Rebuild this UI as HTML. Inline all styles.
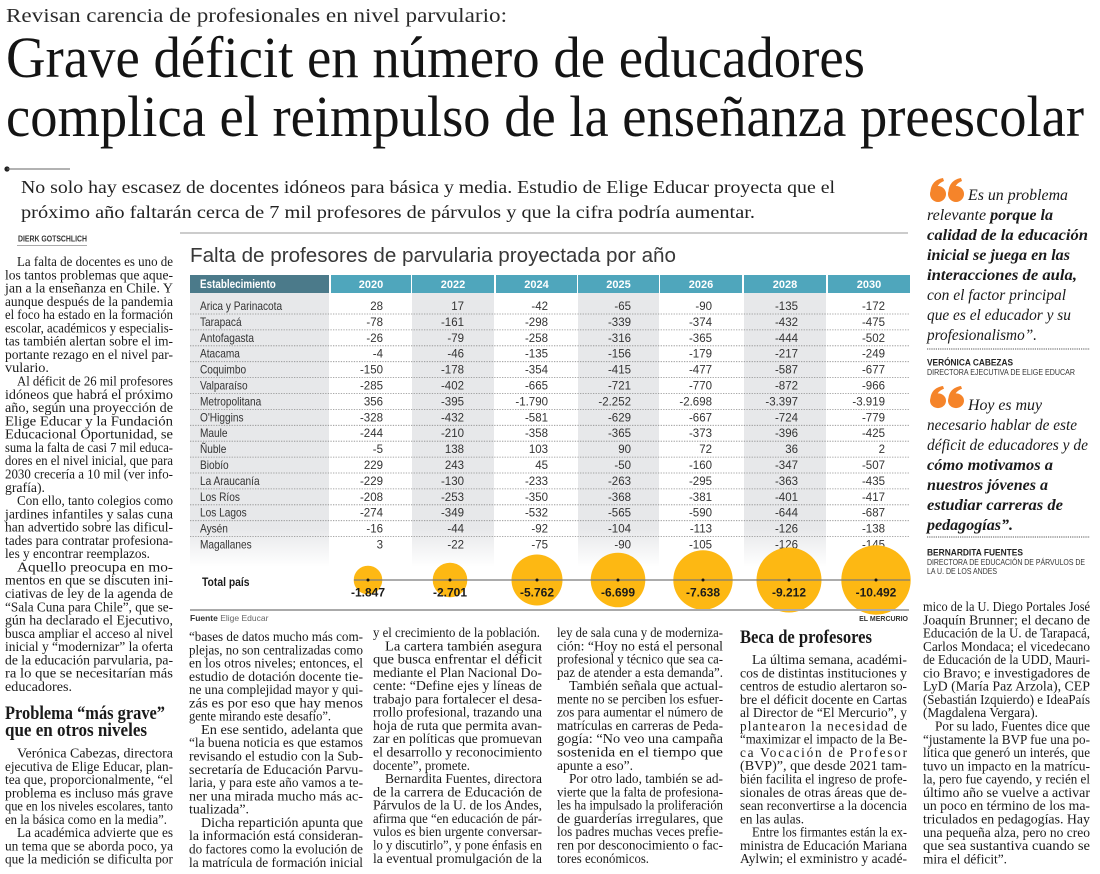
<!DOCTYPE html>
<html><head><meta charset="utf-8">
<style>
html,body{margin:0;padding:0;background:#fff;}
body{width:1100px;height:874px;overflow:hidden;}
svg{display:block;}
.s{font-family:"Liberation Serif",serif;}
.t{font-family:"Liberation Serif",serif;font-size:13.3px;fill:#1a1a1a;}
.a{font-family:"Liberation Sans",sans-serif;}
.n{font-family:"Liberation Sans",sans-serif;font-size:11.5px;fill:#333;text-anchor:end;}
.r{font-family:"Liberation Sans",sans-serif;font-size:11.5px;fill:#333;}
.yh{font-family:"Liberation Sans",sans-serif;font-size:11px;font-weight:bold;fill:#fff;text-anchor:middle;}
.bl{font-family:"Liberation Sans",sans-serif;font-size:12px;font-weight:bold;fill:#1a1a1a;text-anchor:middle;}
.q{font-family:"Liberation Serif",serif;font-size:15.5px;font-style:italic;fill:#1a1a1a;}
.qb{font-weight:bold;}
</style></head>
<body>
<svg width="1100" height="874" viewBox="0 0 1100 874" xmlns="http://www.w3.org/2000/svg">
<defs>
<linearGradient id="g" x1="0" y1="293" x2="0" y2="567" gradientUnits="userSpaceOnUse">
<stop offset="0" stop-color="#e7e8ea"/><stop offset="0.86" stop-color="#e7e8ea"/><stop offset="1" stop-color="#ffffff"/>
</linearGradient>
</defs>
<rect width="1100" height="874" fill="#fff"/>

<!-- Kicker and headline -->
<text class="s" x="6" y="22" font-size="20" fill="#2a2a2a" textLength="501" lengthAdjust="spacingAndGlyphs">Revisan carencia de profesionales en nivel parvulario:</text>
<text class="s" x="6" y="77" font-size="58" fill="#141414" textLength="859" lengthAdjust="spacingAndGlyphs">Grave déficit en número de educadores</text>
<text class="s" x="6" y="136" font-size="58" fill="#141414" textLength="1078" lengthAdjust="spacingAndGlyphs">complica el reimpulso de la enseñanza preescolar</text>

<!-- bullet line -->
<circle cx="7" cy="169" r="2.6" fill="#222"/>
<line x1="7" y1="169" x2="70" y2="169" stroke="#666" stroke-width="1"/>

<!-- deck -->
<text class="s" x="21" y="193" font-size="18" fill="#222" textLength="814" lengthAdjust="spacingAndGlyphs">No solo hay escasez de docentes idóneos para básica y media. Estudio de Elige Educar proyecta que el</text>
<text class="s" x="21" y="218" font-size="18" fill="#222" textLength="734" lengthAdjust="spacingAndGlyphs">próximo año faltarán cerca de 7 mil profesores de párvulos y que la cifra podría aumentar.</text>

<!-- byline -->
<text class="a" x="18" y="241.5" font-size="8.5" font-weight="bold" fill="#333" textLength="69" lengthAdjust="spacingAndGlyphs">DIERK GOTSCHLICH</text>
<line x1="17" y1="245.5" x2="87" y2="245.5" stroke="#aaa" stroke-width="1"/>

<!-- chart -->
<line x1="180" y1="233" x2="908" y2="233" stroke="#999" stroke-width="1"/>
<text class="a" x="190" y="262" font-size="20" fill="#383838" textLength="486" lengthAdjust="spacingAndGlyphs">Falta de profesores de parvularia proyectada por año</text>

<!-- column backgrounds -->
<rect x="190" y="293" width="139" height="274" fill="url(#g)"/>
<rect x="412" y="293" width="82" height="274" fill="url(#g)"/>
<rect x="578" y="293" width="81" height="274" fill="url(#g)"/>
<rect x="744" y="293" width="82" height="274" fill="url(#g)"/>

<!-- header -->
<rect x="190" y="275" width="139" height="18" fill="#4b7a8a"/>
<rect x="331" y="275" width="80" height="18" fill="#4fa6bc"/>
<rect x="412" y="275" width="82" height="18" fill="#4fa6bc"/>
<rect x="496" y="275" width="81" height="18" fill="#4fa6bc"/>
<rect x="578" y="275" width="81" height="18" fill="#4fa6bc"/>
<rect x="660" y="275" width="82" height="18" fill="#4fa6bc"/>
<rect x="744" y="275" width="82" height="18" fill="#4fa6bc"/>
<rect x="828" y="275" width="82" height="18" fill="#4fa6bc"/>
<g transform="translate(200 0) scale(0.86 1)"><text class="a" x="0" y="288" font-size="11.5" font-weight="bold" fill="#fff">Establecimiento</text></g>
<text class="yh" x="371" y="288">2020</text>
<text class="yh" x="453" y="288">2022</text>
<text class="yh" x="536.5" y="288">2024</text>
<text class="yh" x="618.5" y="288">2025</text>
<text class="yh" x="701" y="288">2026</text>
<text class="yh" x="785" y="288">2028</text>
<text class="yh" x="869" y="288">2030</text>

<!-- dotted separators -->
<g stroke="#8c8c8c" stroke-width="0.8" stroke-dasharray="1.3 1.3">
<line x1="190" x2="910" y1="314" y2="314"/>
<line x1="190" x2="910" y1="329.9" y2="329.9"/>
<line x1="190" x2="910" y1="345.8" y2="345.8"/>
<line x1="190" x2="910" y1="361.7" y2="361.7"/>
<line x1="190" x2="910" y1="377.6" y2="377.6"/>
<line x1="190" x2="910" y1="393.5" y2="393.5"/>
<line x1="190" x2="910" y1="409.4" y2="409.4"/>
<line x1="190" x2="910" y1="425.3" y2="425.3"/>
<line x1="190" x2="910" y1="441.2" y2="441.2"/>
<line x1="190" x2="910" y1="457.1" y2="457.1"/>
<line x1="190" x2="910" y1="473" y2="473"/>
<line x1="190" x2="910" y1="488.9" y2="488.9"/>
<line x1="190" x2="910" y1="504.8" y2="504.8"/>
<line x1="190" x2="910" y1="520.7" y2="520.7"/>
<line x1="190" x2="910" y1="536.6" y2="536.6"/>
</g>

<!-- region names -->
<g transform="translate(200 0) scale(0.88 1)">
<text class="r" x="0" y="310">Arica y Parinacota</text>
<text class="r" x="0" y="325.9">Tarapacá</text>
<text class="r" x="0" y="341.8">Antofagasta</text>
<text class="r" x="0" y="357.7">Atacama</text>
<text class="r" x="0" y="373.6">Coquimbo</text>
<text class="r" x="0" y="389.5">Valparaíso</text>
<text class="r" x="0" y="405.4">Metropolitana</text>
<text class="r" x="0" y="421.3">O'Higgins</text>
<text class="r" x="0" y="437.2">Maule</text>
<text class="r" x="0" y="453.1">Ñuble</text>
<text class="r" x="0" y="469">Biobío</text>
<text class="r" x="0" y="484.9">La Araucanía</text>
<text class="r" x="0" y="500.8">Los Ríos</text>
<text class="r" x="0" y="516.7">Los Lagos</text>
<text class="r" x="0" y="532.6">Aysén</text>
<text class="r" x="0" y="548.5">Magallanes</text>
</g>

<!-- numbers -->
<text class="n" y="310"><tspan x="383">28</tspan><tspan x="464">17</tspan><tspan x="548">-42</tspan><tspan x="631">-65</tspan><tspan x="712">-90</tspan><tspan x="798">-135</tspan><tspan x="885">-172</tspan></text>
<text class="n" y="325.9"><tspan x="383">-78</tspan><tspan x="464">-161</tspan><tspan x="548">-298</tspan><tspan x="631">-339</tspan><tspan x="712">-374</tspan><tspan x="798">-432</tspan><tspan x="885">-475</tspan></text>
<text class="n" y="341.8"><tspan x="383">-26</tspan><tspan x="464">-79</tspan><tspan x="548">-258</tspan><tspan x="631">-316</tspan><tspan x="712">-365</tspan><tspan x="798">-444</tspan><tspan x="885">-502</tspan></text>
<text class="n" y="357.7"><tspan x="383">-4</tspan><tspan x="464">-46</tspan><tspan x="548">-135</tspan><tspan x="631">-156</tspan><tspan x="712">-179</tspan><tspan x="798">-217</tspan><tspan x="885">-249</tspan></text>
<text class="n" y="373.6"><tspan x="383">-150</tspan><tspan x="464">-178</tspan><tspan x="548">-354</tspan><tspan x="631">-415</tspan><tspan x="712">-477</tspan><tspan x="798">-587</tspan><tspan x="885">-677</tspan></text>
<text class="n" y="389.5"><tspan x="383">-285</tspan><tspan x="464">-402</tspan><tspan x="548">-665</tspan><tspan x="631">-721</tspan><tspan x="712">-770</tspan><tspan x="798">-872</tspan><tspan x="885">-966</tspan></text>
<text class="n" y="405.4"><tspan x="383">356</tspan><tspan x="464">-395</tspan><tspan x="548">-1.790</tspan><tspan x="631">-2.252</tspan><tspan x="712">-2.698</tspan><tspan x="798">-3.397</tspan><tspan x="885">-3.919</tspan></text>
<text class="n" y="421.3"><tspan x="383">-328</tspan><tspan x="464">-432</tspan><tspan x="548">-581</tspan><tspan x="631">-629</tspan><tspan x="712">-667</tspan><tspan x="798">-724</tspan><tspan x="885">-779</tspan></text>
<text class="n" y="437.2"><tspan x="383">-244</tspan><tspan x="464">-210</tspan><tspan x="548">-358</tspan><tspan x="631">-365</tspan><tspan x="712">-373</tspan><tspan x="798">-396</tspan><tspan x="885">-425</tspan></text>
<text class="n" y="453.1"><tspan x="383">-5</tspan><tspan x="464">138</tspan><tspan x="548">103</tspan><tspan x="631">90</tspan><tspan x="712">72</tspan><tspan x="798">36</tspan><tspan x="885">2</tspan></text>
<text class="n" y="469"><tspan x="383">229</tspan><tspan x="464">243</tspan><tspan x="548">45</tspan><tspan x="631">-50</tspan><tspan x="712">-160</tspan><tspan x="798">-347</tspan><tspan x="885">-507</tspan></text>
<text class="n" y="484.9"><tspan x="383">-229</tspan><tspan x="464">-130</tspan><tspan x="548">-233</tspan><tspan x="631">-263</tspan><tspan x="712">-295</tspan><tspan x="798">-363</tspan><tspan x="885">-435</tspan></text>
<text class="n" y="500.8"><tspan x="383">-208</tspan><tspan x="464">-253</tspan><tspan x="548">-350</tspan><tspan x="631">-368</tspan><tspan x="712">-381</tspan><tspan x="798">-401</tspan><tspan x="885">-417</tspan></text>
<text class="n" y="516.7"><tspan x="383">-274</tspan><tspan x="464">-349</tspan><tspan x="548">-532</tspan><tspan x="631">-565</tspan><tspan x="712">-590</tspan><tspan x="798">-644</tspan><tspan x="885">-687</tspan></text>
<text class="n" y="532.6"><tspan x="383">-16</tspan><tspan x="464">-44</tspan><tspan x="548">-92</tspan><tspan x="631">-104</tspan><tspan x="712">-113</tspan><tspan x="798">-126</tspan><tspan x="885">-138</tspan></text>
<text class="n" y="548.5"><tspan x="383">3</tspan><tspan x="464">-22</tspan><tspan x="548">-75</tspan><tspan x="631">-90</tspan><tspan x="712">-105</tspan><tspan x="798">-126</tspan><tspan x="885">-145</tspan></text>

<!-- Total país -->
<g transform="translate(202 0) scale(0.9 1)"><text class="a" x="0" y="586" font-size="11.5" font-weight="bold" fill="#1a1a1a">Total país</text></g>
<g fill="#fdb813">
<circle cx="368" cy="580" r="14.3"/>
<circle cx="450" cy="580" r="17.3"/>
<circle cx="537" cy="580" r="25.5"/>
<circle cx="618" cy="580" r="27.3"/>
<circle cx="703" cy="580" r="29.7"/>
<circle cx="789" cy="580" r="32.5"/>
<circle cx="876" cy="580" r="34.7"/>
</g>
<line x1="354" y1="580" x2="910" y2="580" stroke="#7a7a7a" stroke-width="1.3"/>
<g fill="#111">
<circle cx="368" cy="580" r="1.5"/><circle cx="450" cy="580" r="1.5"/><circle cx="537" cy="580" r="1.5"/><circle cx="618" cy="580" r="1.5"/><circle cx="703" cy="580" r="1.5"/><circle cx="789" cy="580" r="1.5"/><circle cx="876" cy="580" r="1.5"/>
</g>
<text class="bl" x="368" y="596.5">-1.847</text>
<text class="bl" x="450" y="596.5">-2.701</text>
<text class="bl" x="537" y="596.5">-5.762</text>
<text class="bl" x="618" y="596.5">-6.699</text>
<text class="bl" x="703" y="596.5">-7.638</text>
<text class="bl" x="789" y="596.5">-9.212</text>
<text class="bl" x="876" y="596.5">-10.492</text>

<line x1="190" y1="610" x2="909" y2="610" stroke="#aaa" stroke-width="2"/>
<text class="a" x="190" y="621" font-size="8.5" fill="#333"><tspan font-weight="bold">Fuente</tspan><tspan fill="#666">  Elige Educar</tspan></text>
<text class="a" x="908" y="621" font-size="7" font-weight="bold" fill="#333" text-anchor="end">EL MERCURIO</text>

<!-- Quotes -->
<g fill="#f5842a">
<g transform="translate(930 178)">
<circle cx="8" cy="16" r="8"/><path d="M0.5,16 C0,8 4,1.5 13,0 L14,3 C9,5 6.5,8.5 7,12 Z"/>
<g transform="translate(18 0)"><circle cx="8" cy="16" r="8"/><path d="M0.5,16 C0,8 4,1.5 13,0 L14,3 C9,5 6.5,8.5 7,12 Z"/></g>
</g>
<g transform="translate(930 386) scale(1 0.92)">
<circle cx="8" cy="16" r="8"/><path d="M0.5,16 C0,8 4,1.5 13,0 L14,3 C9,5 6.5,8.5 7,12 Z"/>
<g transform="translate(18 0)"><circle cx="8" cy="16" r="8"/><path d="M0.5,16 C0,8 4,1.5 13,0 L14,3 C9,5 6.5,8.5 7,12 Z"/></g>
</g>
</g>

<text class="q" x="968" y="200" textLength="100" lengthAdjust="spacingAndGlyphs">Es un problema</text>
<text class="q" x="927" y="220" textLength="126" lengthAdjust="spacingAndGlyphs">relevante <tspan class="qb">porque la</tspan></text>
<text class="q qb" x="927" y="240" textLength="161" lengthAdjust="spacingAndGlyphs">calidad de la educación</text>
<text class="q qb" x="927" y="260" textLength="143" lengthAdjust="spacingAndGlyphs">inicial se juega en las</text>
<text class="q qb" x="927" y="280" textLength="150" lengthAdjust="spacingAndGlyphs">interacciones de aula,</text>
<text class="q" x="927" y="300" textLength="139" lengthAdjust="spacingAndGlyphs">con el factor principal</text>
<text class="q" x="927" y="320" textLength="144" lengthAdjust="spacingAndGlyphs">que es el educador y su</text>
<text class="q" x="927" y="340" textLength="110" lengthAdjust="spacingAndGlyphs">profesionalismo”.</text>
<line x1="927" y1="349" x2="1090" y2="349" stroke="#555" stroke-width="1" stroke-dasharray="1.2 1"/>
<text class="a" x="927" y="365.5" font-size="9.5" font-weight="bold" fill="#222" textLength="86" lengthAdjust="spacingAndGlyphs">VERÓNICA CABEZAS</text>
<text class="a" x="927" y="375" font-size="8.3" fill="#333" textLength="148" lengthAdjust="spacingAndGlyphs">DIRECTORA EJECUTIVA DE ELIGE EDUCAR</text>

<text class="q" x="968" y="410" textLength="74" lengthAdjust="spacingAndGlyphs">Hoy es muy</text>
<text class="q" x="927" y="430" textLength="150" lengthAdjust="spacingAndGlyphs">necesario hablar de este</text>
<text class="q" x="927" y="450" textLength="161" lengthAdjust="spacingAndGlyphs">déficit de educadores y de</text>
<text class="q qb" x="927" y="470" textLength="126" lengthAdjust="spacingAndGlyphs">cómo motivamos a</text>
<text class="q qb" x="927" y="490" textLength="121" lengthAdjust="spacingAndGlyphs">nuestros jóvenes a</text>
<text class="q qb" x="927" y="510" textLength="136" lengthAdjust="spacingAndGlyphs">estudiar carreras de</text>
<text class="q qb" x="927" y="530" textLength="86" lengthAdjust="spacingAndGlyphs">pedagogías”.</text>
<line x1="927" y1="537" x2="1090" y2="537" stroke="#555" stroke-width="1" stroke-dasharray="1.2 1"/>
<text class="a" x="927" y="555.5" font-size="9.5" font-weight="bold" fill="#222" textLength="96" lengthAdjust="spacingAndGlyphs">BERNARDITA FUENTES</text>
<text class="a" x="927" y="565" font-size="8.3" fill="#333" textLength="158" lengthAdjust="spacingAndGlyphs">DIRECTORA DE EDUCACIÓN DE PÁRVULOS DE</text>
<text class="a" x="927" y="574" font-size="8.3" fill="#333" textLength="70" lengthAdjust="spacingAndGlyphs">LA U. DE LOS ANDES</text>

<!-- Column 1 -->
<g class="t">
<text x="17" y="266" textLength="156" lengthAdjust="spacingAndGlyphs">La falta de docentes es uno de</text>
<text x="5" y="279.3" textLength="168" lengthAdjust="spacingAndGlyphs">los tantos problemas que aque-</text>
<text x="5" y="292.6" textLength="168" lengthAdjust="spacingAndGlyphs">jan a la enseñanza en Chile. Y</text>
<text x="5" y="305.8" textLength="168" lengthAdjust="spacingAndGlyphs">aunque después de la pandemia</text>
<text x="5" y="319.1" textLength="168" lengthAdjust="spacingAndGlyphs">el foco ha estado en la formación</text>
<text x="5" y="332.4" textLength="168" lengthAdjust="spacingAndGlyphs">escolar, académicos y especialis-</text>
<text x="5" y="345.7" textLength="168" lengthAdjust="spacingAndGlyphs">tas también alertan sobre el im-</text>
<text x="5" y="359" textLength="168" lengthAdjust="spacingAndGlyphs">portante rezago en el nivel par-</text>
<text x="5" y="372.2" textLength="44" lengthAdjust="spacingAndGlyphs">vulario.</text>
<text x="17" y="385.5" textLength="156" lengthAdjust="spacingAndGlyphs">Al déficit de 26 mil profesores</text>
<text x="5" y="398.8" textLength="168" lengthAdjust="spacingAndGlyphs">idóneos que habrá el próximo</text>
<text x="5" y="412.1" textLength="168" lengthAdjust="spacingAndGlyphs">año, según una proyección de</text>
<text x="5" y="425.4" textLength="168" lengthAdjust="spacingAndGlyphs">Elige Educar y la Fundación</text>
<text x="5" y="438.6" textLength="168" lengthAdjust="spacingAndGlyphs">Educacional Oportunidad, se</text>
<text x="5" y="451.9" textLength="168" lengthAdjust="spacingAndGlyphs">suma la falta de casi 7 mil educa-</text>
<text x="5" y="465.2" textLength="168" lengthAdjust="spacingAndGlyphs">dores en el nivel inicial, que para</text>
<text x="5" y="478.5" textLength="168" lengthAdjust="spacingAndGlyphs">2030 crecería a 10 mil (ver info-</text>
<text x="5" y="491.8" textLength="40" lengthAdjust="spacingAndGlyphs">grafía).</text>
<text x="17" y="505" textLength="156" lengthAdjust="spacingAndGlyphs">Con ello, tanto colegios como</text>
<text x="5" y="518.3" textLength="168" lengthAdjust="spacingAndGlyphs">jardines infantiles y salas cuna</text>
<text x="5" y="531.6" textLength="168" lengthAdjust="spacingAndGlyphs">han advertido sobre las dificul-</text>
<text x="5" y="544.9" textLength="168" lengthAdjust="spacingAndGlyphs">tades para contratar profesiona-</text>
<text x="5" y="558.2" textLength="145" lengthAdjust="spacingAndGlyphs">les y encontrar reemplazos.</text>
<text x="17" y="571.4" textLength="156" lengthAdjust="spacingAndGlyphs">Aquello preocupa en mo-</text>
<text x="5" y="584.7" textLength="168" lengthAdjust="spacingAndGlyphs">mentos en que se discuten ini-</text>
<text x="5" y="598" textLength="168" lengthAdjust="spacingAndGlyphs">ciativas de ley de la agenda de</text>
<text x="5" y="611.3" textLength="168" lengthAdjust="spacingAndGlyphs">“Sala Cuna para Chile”, que se-</text>
<text x="5" y="624.6" textLength="168" lengthAdjust="spacingAndGlyphs">gún ha declarado el Ejecutivo,</text>
<text x="5" y="637.8" textLength="168" lengthAdjust="spacingAndGlyphs">busca ampliar el acceso al nivel</text>
<text x="5" y="651.1" textLength="168" lengthAdjust="spacingAndGlyphs">inicial y “modernizar” la oferta</text>
<text x="5" y="664.4" textLength="168" lengthAdjust="spacingAndGlyphs">de la educación parvularia, pa-</text>
<text x="5" y="677.7" textLength="168" lengthAdjust="spacingAndGlyphs">ra lo que se necesitarían más</text>
<text x="5" y="691" textLength="67" lengthAdjust="spacingAndGlyphs">educadores.</text>

<text x="17" y="757.5" textLength="156" lengthAdjust="spacingAndGlyphs">Verónica Cabezas, directora</text>
<text x="5" y="770.8" textLength="168" lengthAdjust="spacingAndGlyphs">ejecutiva de Elige Educar, plan-</text>
<text x="5" y="784.1" textLength="168" lengthAdjust="spacingAndGlyphs">tea que, proporcionalmente, “el</text>
<text x="5" y="797.3" textLength="168" lengthAdjust="spacingAndGlyphs">problema es incluso más grave</text>
<text x="5" y="810.6" textLength="168" lengthAdjust="spacingAndGlyphs">que en los niveles escolares, tanto</text>
<text x="5" y="823.9" textLength="162" lengthAdjust="spacingAndGlyphs">en la básica como en la media”.</text>
<text x="17" y="837.2" textLength="156" lengthAdjust="spacingAndGlyphs">La académica advierte que es</text>
<text x="5" y="850.5" textLength="168" lengthAdjust="spacingAndGlyphs">un tema que se aborda poco, ya</text>
<text x="5" y="863.7" textLength="168" lengthAdjust="spacingAndGlyphs">que la medición se dificulta por</text>

<!-- Column 2 -->
<text x="189" y="641" textLength="174" lengthAdjust="spacingAndGlyphs">“bases de datos mucho más com-</text>
<text x="189" y="654.3" textLength="174" lengthAdjust="spacingAndGlyphs">plejas, no son centralizadas como</text>
<text x="189" y="667.6" textLength="174" lengthAdjust="spacingAndGlyphs">en los otros niveles; entonces, el</text>
<text x="189" y="680.8" textLength="174" lengthAdjust="spacingAndGlyphs">estudio de dotación docente tie-</text>
<text x="189" y="694.1" textLength="174" lengthAdjust="spacingAndGlyphs">ne una complejidad mayor y qui-</text>
<text x="189" y="707.4" textLength="174" lengthAdjust="spacingAndGlyphs">zás es por eso que hay menos</text>
<text x="189" y="720.7" textLength="142" lengthAdjust="spacingAndGlyphs">gente mirando este desafío”.</text>
<text x="201" y="734" textLength="162" lengthAdjust="spacingAndGlyphs">En ese sentido, adelanta que</text>
<text x="189" y="747.2" textLength="174" lengthAdjust="spacingAndGlyphs">“la buena noticia es que estamos</text>
<text x="189" y="760.5" textLength="174" lengthAdjust="spacingAndGlyphs">revisando el estudio con la Sub-</text>
<text x="189" y="773.8" textLength="174" lengthAdjust="spacingAndGlyphs">secretaría de Educación Parvu-</text>
<text x="189" y="787.1" textLength="174" lengthAdjust="spacingAndGlyphs">laria, y para este año vamos a te-</text>
<text x="189" y="800.4" textLength="174" lengthAdjust="spacingAndGlyphs">ner una mirada mucho más ac-</text>
<text x="189" y="813.6" textLength="60" lengthAdjust="spacingAndGlyphs">tualizada”.</text>
<text x="201" y="826.9" textLength="162" lengthAdjust="spacingAndGlyphs">Dicha repartición apunta que</text>
<text x="189" y="840.2" textLength="174" lengthAdjust="spacingAndGlyphs">la información está consideran-</text>
<text x="189" y="853.5" textLength="174" lengthAdjust="spacingAndGlyphs">do factores como la evolución de</text>
<text x="189" y="866.8" textLength="174" lengthAdjust="spacingAndGlyphs">la matrícula de formación inicial</text>

<!-- Column 3 -->
<text x="373" y="637" textLength="167" lengthAdjust="spacingAndGlyphs">y el crecimiento de la población.</text>
<text x="385" y="650.3" textLength="157" lengthAdjust="spacingAndGlyphs">La cartera también asegura</text>
<text x="373" y="663.6" textLength="169" lengthAdjust="spacingAndGlyphs">que busca enfrentar el déficit</text>
<text x="373" y="676.8" textLength="169" lengthAdjust="spacingAndGlyphs">mediante el Plan Nacional Do-</text>
<text x="373" y="690.1" textLength="169" lengthAdjust="spacingAndGlyphs">cente: “Define ejes y líneas de</text>
<text x="373" y="703.4" textLength="169" lengthAdjust="spacingAndGlyphs">trabajo para fortalecer el desa-</text>
<text x="373" y="716.7" textLength="169" lengthAdjust="spacingAndGlyphs">rrollo profesional, trazando una</text>
<text x="373" y="730" textLength="169" lengthAdjust="spacingAndGlyphs">hoja de ruta que permita avan-</text>
<text x="373" y="743.2" textLength="169" lengthAdjust="spacingAndGlyphs">zar en políticas que promuevan</text>
<text x="373" y="756.5" textLength="169" lengthAdjust="spacingAndGlyphs">el desarrollo y reconocimiento</text>
<text x="373" y="769.8" textLength="97" lengthAdjust="spacingAndGlyphs">docente”, promete.</text>
<text x="385" y="783.1" textLength="157" lengthAdjust="spacingAndGlyphs">Bernardita Fuentes, directora</text>
<text x="373" y="796.4" textLength="169" lengthAdjust="spacingAndGlyphs">de la carrera de Educación de</text>
<text x="373" y="809.6" textLength="169" lengthAdjust="spacingAndGlyphs">Párvulos de la U. de los Andes,</text>
<text x="373" y="822.9" textLength="169" lengthAdjust="spacingAndGlyphs">afirma que “en educación de pár-</text>
<text x="373" y="836.2" textLength="169" lengthAdjust="spacingAndGlyphs">vulos es bien urgente conversar-</text>
<text x="373" y="849.5" textLength="169" lengthAdjust="spacingAndGlyphs">lo y discutirlo”, y pone énfasis en</text>
<text x="373" y="862.8" textLength="169" lengthAdjust="spacingAndGlyphs">la eventual promulgación de la</text>

<!-- Column 4 -->
<text x="557" y="637" textLength="166" lengthAdjust="spacingAndGlyphs">ley de sala cuna y de moderniza-</text>
<text x="557" y="650.3" textLength="166" lengthAdjust="spacingAndGlyphs">ción: “Hoy no está el personal</text>
<text x="557" y="663.6" textLength="166" lengthAdjust="spacingAndGlyphs">profesional y técnico que sea ca-</text>
<text x="557" y="676.8" textLength="166" lengthAdjust="spacingAndGlyphs">paz de atender a esta demanda”.</text>
<text x="569" y="690.1" textLength="154" lengthAdjust="spacingAndGlyphs">También señala que actual-</text>
<text x="557" y="703.4" textLength="166" lengthAdjust="spacingAndGlyphs">mente no se perciben los esfuer-</text>
<text x="557" y="716.7" textLength="166" lengthAdjust="spacingAndGlyphs">zos para aumentar el número de</text>
<text x="557" y="730" textLength="166" lengthAdjust="spacingAndGlyphs">matrículas en carreras de Peda-</text>
<text x="557" y="743.2" textLength="166" lengthAdjust="spacingAndGlyphs">gogía: “No veo una campaña</text>
<text x="557" y="756.5" textLength="166" lengthAdjust="spacingAndGlyphs">sostenida en el tiempo que</text>
<text x="557" y="769.8" textLength="76" lengthAdjust="spacingAndGlyphs">apunte a eso”.</text>
<text x="569" y="783.1" textLength="154" lengthAdjust="spacingAndGlyphs">Por otro lado, también se ad-</text>
<text x="557" y="796.4" textLength="166" lengthAdjust="spacingAndGlyphs">vierte que la falta de profesiona-</text>
<text x="557" y="809.6" textLength="166" lengthAdjust="spacingAndGlyphs">les ha impulsado la proliferación</text>
<text x="557" y="822.9" textLength="166" lengthAdjust="spacingAndGlyphs">de guarderías irregulares, que</text>
<text x="557" y="836.2" textLength="166" lengthAdjust="spacingAndGlyphs">los padres muchas veces prefie-</text>
<text x="557" y="849.5" textLength="166" lengthAdjust="spacingAndGlyphs">ren por desconocimiento o fac-</text>
<text x="557" y="862.8" textLength="92" lengthAdjust="spacingAndGlyphs">tores económicos.</text>

<!-- Column 5 -->
<text x="752" y="664" textLength="155" lengthAdjust="spacingAndGlyphs">La última semana, académi-</text>
<text x="740" y="677.3" textLength="167" lengthAdjust="spacingAndGlyphs">cos de distintas instituciones y</text>
<text x="740" y="690.6" textLength="167" lengthAdjust="spacingAndGlyphs">centros de estudio alertaron so-</text>
<text x="740" y="703.8" textLength="167" lengthAdjust="spacingAndGlyphs">bre el déficit docente en Cartas</text>
<text x="740" y="717.1" textLength="167" lengthAdjust="spacingAndGlyphs">al Director de “El Mercurio”, y</text>
<text x="740" y="730.4" textLength="167" lengthAdjust="spacing">plantearon la necesidad de</text>
<text x="740" y="743.7" textLength="167" lengthAdjust="spacingAndGlyphs">“maximizar el impacto de la Be-</text>
<text x="740" y="757" textLength="167" lengthAdjust="spacing">ca Vocación de Profesor</text>
<text x="740" y="770.2" textLength="167" lengthAdjust="spacingAndGlyphs">(BVP)”, que desde 2021 tam-</text>
<text x="740" y="783.5" textLength="167" lengthAdjust="spacingAndGlyphs">bién facilita el ingreso de profe-</text>
<text x="740" y="796.8" textLength="167" lengthAdjust="spacingAndGlyphs">sionales de otras áreas que de-</text>
<text x="740" y="810.1" textLength="167" lengthAdjust="spacingAndGlyphs">sean reconvertirse a la docencia</text>
<text x="740" y="823.4" textLength="64" lengthAdjust="spacingAndGlyphs">en las aulas.</text>
<text x="752" y="836.6" textLength="155" lengthAdjust="spacingAndGlyphs">Entre los firmantes están la ex-</text>
<text x="740" y="849.9" textLength="167" lengthAdjust="spacingAndGlyphs">ministra de Educación Mariana</text>
<text x="740" y="863.2" textLength="167" lengthAdjust="spacingAndGlyphs">Aylwin; el exministro y acadé-</text>

<!-- Column 6 -->
<text x="923" y="611" textLength="167" lengthAdjust="spacingAndGlyphs">mico de la U. Diego Portales José</text>
<text x="923" y="624.3" textLength="167" lengthAdjust="spacingAndGlyphs">Joaquín Brunner; el decano de</text>
<text x="923" y="637.6" textLength="167" lengthAdjust="spacingAndGlyphs">Educación de la U. de Tarapacá,</text>
<text x="923" y="650.8" textLength="167" lengthAdjust="spacingAndGlyphs">Carlos Mondaca; el vicedecano</text>
<text x="923" y="664.1" textLength="167" lengthAdjust="spacingAndGlyphs">de Educación de la UDD, Mauri-</text>
<text x="923" y="677.4" textLength="167" lengthAdjust="spacingAndGlyphs">cio Bravo; e investigadores de</text>
<text x="923" y="690.7" textLength="167" lengthAdjust="spacingAndGlyphs">LyD (María Paz Arzola), CEP</text>
<text x="923" y="704" textLength="167" lengthAdjust="spacingAndGlyphs">(Sebastián Izquierdo) e IdeaPaís</text>
<text x="923" y="717.2" textLength="115" lengthAdjust="spacingAndGlyphs">(Magdalena Vergara).</text>
<text x="935" y="730.5" textLength="155" lengthAdjust="spacingAndGlyphs">Por su lado, Fuentes dice que</text>
<text x="923" y="743.8" textLength="167" lengthAdjust="spacingAndGlyphs">“justamente la BVP fue una po-</text>
<text x="923" y="757.1" textLength="167" lengthAdjust="spacingAndGlyphs">lítica que generó un interés, que</text>
<text x="923" y="770.4" textLength="167" lengthAdjust="spacingAndGlyphs">tuvo un impacto en la matrícu-</text>
<text x="923" y="783.6" textLength="167" lengthAdjust="spacingAndGlyphs">la, pero fue cayendo, y recién el</text>
<text x="923" y="796.9" textLength="167" lengthAdjust="spacingAndGlyphs">último año se vuelve a activar</text>
<text x="923" y="810.2" textLength="167" lengthAdjust="spacingAndGlyphs">un poco en término de los ma-</text>
<text x="923" y="823.5" textLength="167" lengthAdjust="spacingAndGlyphs">triculados en pedagogías. Hay</text>
<text x="923" y="836.8" textLength="167" lengthAdjust="spacingAndGlyphs">una pequeña alza, pero no creo</text>
<text x="923" y="850" textLength="167" lengthAdjust="spacingAndGlyphs">que sea sustantiva cuando se</text>
<text x="923" y="863.3" textLength="84" lengthAdjust="spacingAndGlyphs">mira el déficit”.</text>
</g>

<!-- Subheads -->
<text class="s" x="5" y="719" font-size="18.5" font-weight="bold" fill="#1a1a1a" textLength="160" lengthAdjust="spacingAndGlyphs">Problema “más grave”</text>
<text class="s" x="5" y="736" font-size="18.5" font-weight="bold" fill="#1a1a1a" textLength="142" lengthAdjust="spacingAndGlyphs">que en otros niveles</text>
<text class="s" x="740" y="643" font-size="18.5" font-weight="bold" fill="#1a1a1a" textLength="132" lengthAdjust="spacingAndGlyphs">Beca de profesores</text>
</svg>
</body></html>
